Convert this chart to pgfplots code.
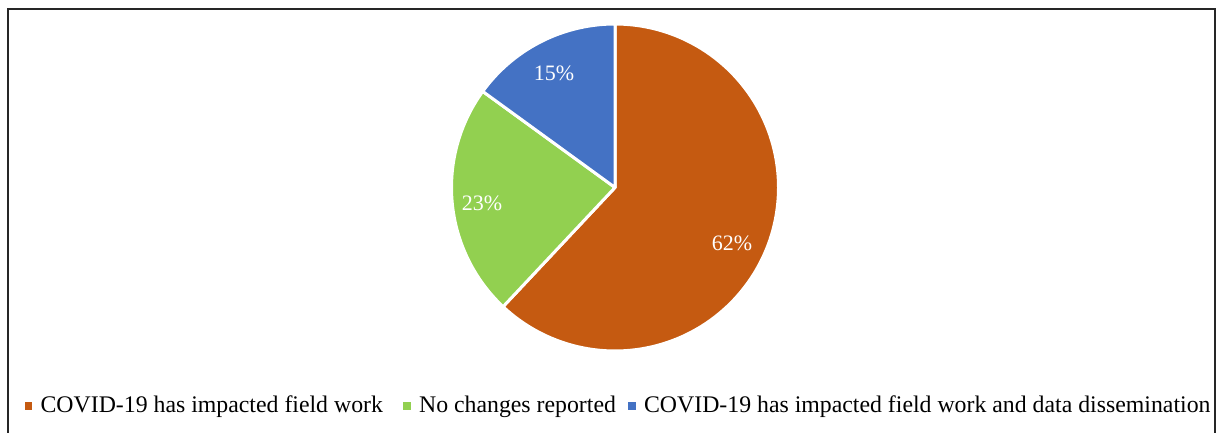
\documentclass[border=0pt]{standalone}
\usepackage{fontspec}
\setmainfont{Liberation Serif}
\usepackage{pgfplots}
\pgfplotsset{compat=1.18}
\definecolor{cOr}{HTML}{C55A11}
\definecolor{cGr}{HTML}{92D050}
\definecolor{cBl}{HTML}{4472C4}
\begin{document}
\begin{tikzpicture}
\useasboundingbox (0,0) rectangle (609.5pt,216.5pt);
% data (percent shares)
\def\vA{62}\def\vB{23}\def\vC{15}
\def\cx{615}\def\cy{245.5}\def\R{163.5}
\pgfmathsetmacro\aA{90}
\pgfmathsetmacro\aB{90-3.6*\vA}
\pgfmathsetmacro\aC{\aB-3.6*\vB}
\pgfmathsetmacro\aD{\aC-3.6*\vC}
\begin{axis}[x=0.5pt,y=0.5pt,xmin=0,xmax=1219,ymin=0,ymax=433,
  hide axis, clip=false, anchor=origin, at={(0,0)},
  legend columns=3,
  legend image code/.code={\fill[#1,draw=none] (0pt,-1.9pt) rectangle (3.8pt,1.9pt); \path (5.3pt,0pt);},
  legend style={draw=none, fill=none, inner sep=0pt, outer sep=0pt,
    at={(axis cs:24.5,27)}, anchor=west,
    font=\fontsize{11.9}{14}\selectfont,
    /tikz/column 2/.append style={column sep=8pt},
    /tikz/column 4/.append style={column sep=4pt}},
]
\draw[black!85, line width=0.75pt] (axis cs:8,0) -- (axis cs:8,424) -- (axis cs:1215,424) -- (axis cs:1215,0);
\addplot[fill=cOr, draw=white, line width=1.5pt, line join=round, domain=\aB:\aA, samples=120]
  ({\cx+\R*cos(x)},{\cy+\R*sin(x)}) -- (axis cs:\cx,\cy) -- cycle;
\addlegendentry{COVID-19 has impacted field work}
\addplot[fill=cGr, draw=white, line width=1.5pt, line join=round, domain=\aC:\aB, samples=60]
  ({\cx+\R*cos(x)},{\cy+\R*sin(x)}) -- (axis cs:\cx,\cy) -- cycle;
\addlegendentry{No changes reported}
\addplot[fill=cBl, draw=white, line width=1.5pt, line join=round, domain=\aD:\aC, samples=50]
  ({\cx+\R*cos(x)},{\cy+\R*sin(x)}) -- (axis cs:\cx,\cy) -- cycle;
\addlegendentry{COVID-19 has impacted field work and data dissemination}
\node[white, font=\fontsize{11}{13}\selectfont] at (axis cs:732,190) {\vA\%};
\node[white, font=\fontsize{11}{13}\selectfont] at (axis cs:482,230) {\vB\%};
\node[white, font=\fontsize{11}{13}\selectfont] at (axis cs:554,360) {\vC\%};
\end{axis}
\end{tikzpicture}
\end{document}
